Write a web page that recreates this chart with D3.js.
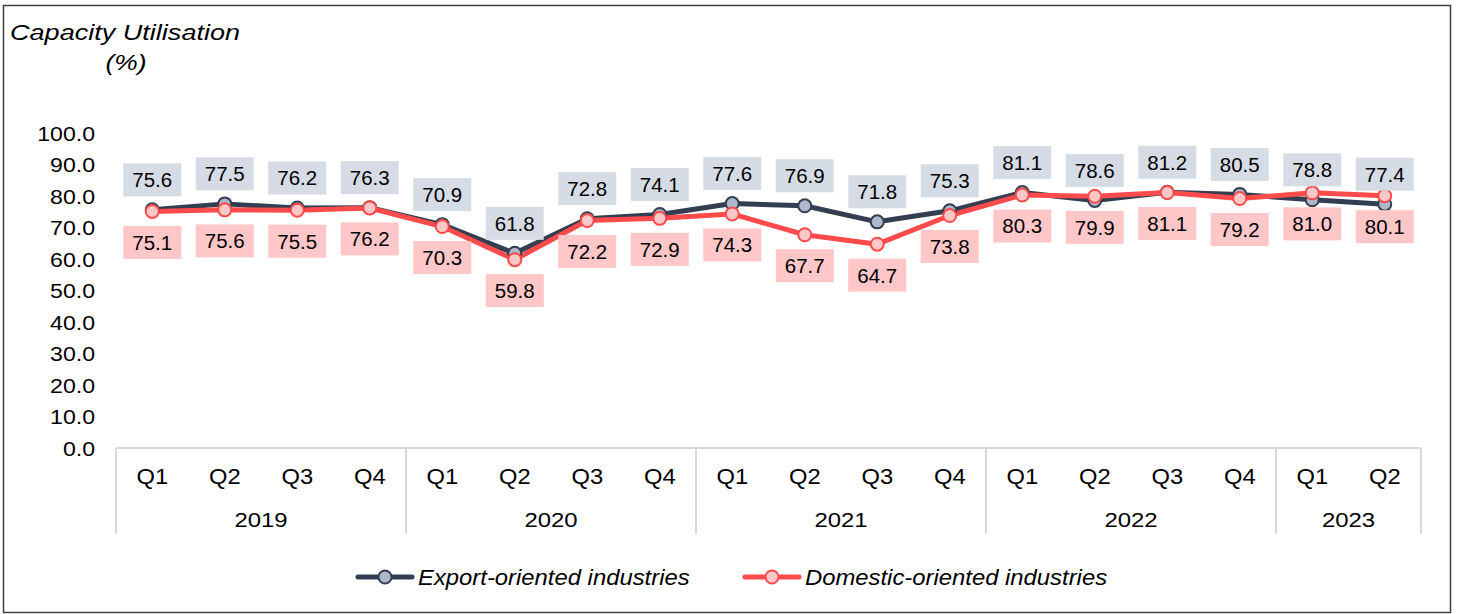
<!DOCTYPE html>
<html>
<head>
<meta charset="utf-8">
<script src="https://cdn.jsdelivr.net/npm/d3@7"></script>
<style>
  body { margin: 0; background: #fff; }
  text { font-family: Arial, "Liberation Sans", sans-serif; fill: #000; }
</style>
</head>
<body>
<div id="chart"></div>
<script>
const quarters = ['Q1', 'Q2', 'Q3', 'Q4', 'Q1', 'Q2', 'Q3', 'Q4', 'Q1', 'Q2', 'Q3', 'Q4', 'Q1', 'Q2', 'Q3', 'Q4', 'Q1', 'Q2']
const years = ['2019', '2019', '2019', '2019', '2020', '2020', '2020', '2020', '2021', '2021', '2021', '2021', '2022', '2022', '2022', '2022', '2023', '2023']
const exportValues = [75.6, 77.5, 76.2, 76.3, 70.9, 61.8, 72.8, 74.1, 77.6, 76.9, 71.8, 75.3, 81.1, 78.6, 81.2, 80.5, 78.8, 77.4]
const domesticValues = [75.1, 75.6, 75.5, 76.2, 70.3, 59.8, 72.2, 72.9, 74.3, 67.7, 64.7, 73.8, 80.3, 79.9, 81.1, 79.2, 81.0, 80.1]
const yTicks = [0, 10, 20, 30, 40, 50, 60, 70, 80, 90, 100]

const W = 1459
const H = 614
const margin = { top: 133, right: 38, bottom: 166, left: 116 }
const width = W - margin.left - margin.right
const height = H - margin.top - margin.bottom

const series = [
  { name: 'Export-oriented industries', values: exportValues, line: '#333f50', fill: '#adb9ca', box: '#d6dce5', dy: -30 },
  { name: 'Domestic-oriented industries', values: domesticValues, line: '#ff4b4b', fill: '#ffc7c7', box: '#ffc7c7', dy: 31 }
]

// the source renders text a little wider than Arial, so stretch it sideways
const place = (px, py, sx) => 'translate(' + px + ',' + py + ') scale(' + sx + ',1)'

const svg = d3.select('#chart').append('svg')
  .attr('width', W)
  .attr('height', H)

// outer frame
svg.append('rect')
  .attr('x', 3.5).attr('y', 5.5)
  .attr('width', 1447).attr('height', 607)
  .attr('fill', 'none')
  .attr('stroke', '#404040')
  .attr('stroke-width', 1.5)

svg.append('text')
  .attr('transform', place(10, 40, 1.23))
  .attr('font-size', 22).attr('font-style', 'italic')
  .text('Capacity Utilisation')
svg.append('text')
  .attr('transform', place(126, 70, 1.2))
  .attr('text-anchor', 'middle')
  .attr('font-size', 22).attr('font-style', 'italic')
  .text('(%)')

const g = svg.append('g').attr('transform', 'translate(' + margin.left + ',' + margin.top + ')')

const idx = d3.range(quarters.length)
const x = d3.scaleBand().domain(idx).range([0, width])
const y = d3.scaleLinear().domain([0, 100]).range([height, 0])
const cx = i => x(i) + x.bandwidth() / 2

// y axis labels
const yAxis = d3.axisLeft(y).tickValues(yTicks).tickFormat(d3.format('.1f')).tickSize(0).tickPadding(0)
g.append('g').call(yAxis)
  .call(s => s.select('.domain').remove())
  .call(s => s.selectAll('.tick text')
    .attr('x', null).attr('dy', null)
    .attr('transform', 'translate(-21,7) scale(1.1,1)')
    .attr('font-size', 21)
    .attr('fill', '#000')
    .attr('font-family', 'Arial, "Liberation Sans", sans-serif'))

// category axis
const axisColor = '#d9d9d9'
g.append('line')
  .attr('x1', 0).attr('x2', width)
  .attr('y1', height).attr('y2', height)
  .attr('stroke', axisColor).attr('stroke-width', 2)

const yearGroups = d3.groups(idx, i => years[i])
const bounds = [0]
yearGroups.forEach(([yr, ids]) => bounds.push(d3.max(ids) + 1))
bounds.forEach(b => {
  const bx = b < quarters.length ? x(b) : width
  g.append('line')
    .attr('x1', bx).attr('x2', bx)
    .attr('y1', height).attr('y2', height + 86)
    .attr('stroke', axisColor).attr('stroke-width', 2)
})

g.selectAll('.q').data(idx).join('text')
  .attr('transform', i => place(cx(i), height + 36, 1.08))
  .attr('text-anchor', 'middle')
  .attr('font-size', 22)
  .text(i => quarters[i])

g.selectAll('.yr').data(yearGroups).join('text')
  .attr('transform', d => place((x(d3.min(d[1])) + x(d3.max(d[1])) + x.bandwidth()) / 2, height + 79, 1.14))
  .attr('text-anchor', 'middle')
  .attr('font-size', 21)
  .text(d => d[0])

const line = d3.line().x((d, i) => cx(i)).y(d => y(d))

series.forEach(s => {
  g.append('path')
    .datum(s.values)
    .attr('d', line)
    .attr('fill', 'none')
    .attr('stroke', s.line)
    .attr('stroke-width', 5)
    .attr('stroke-linejoin', 'round')
})

series.forEach(s => {
  g.selectAll(null).data(s.values).join('circle')
    .attr('cx', (d, i) => cx(i))
    .attr('cy', d => y(d))
    .attr('r', 6.5)
    .attr('fill', s.fill)
    .attr('stroke', s.line)
    .attr('stroke-width', 2)
})

series.forEach(s => {
  const lab = g.selectAll(null).data(s.values).join('g')
    .attr('transform', (d, i) => 'translate(' + cx(i) + ',' + (y(d) + s.dy) + ')')
  lab.append('rect')
    .attr('x', -29).attr('y', -16.5)
    .attr('width', 58).attr('height', 33)
    .attr('fill', s.box)
  lab.append('text')
    .attr('text-anchor', 'middle')
    .attr('dy', '0.36em')
    .attr('font-size', 20.5)
    .text(d => d.toFixed(1))
})

// legend
const legend = svg.append('g').attr('transform', 'translate(358,577)')
const legendX = [0, 387]
series.forEach((s, k) => {
  const lg = legend.append('g').attr('transform', 'translate(' + legendX[k] + ',0)')
  lg.append('line')
    .attr('x1', 0).attr('x2', 54)
    .attr('stroke', s.line).attr('stroke-width', 5).attr('stroke-linecap', 'round')
  lg.append('circle')
    .attr('cx', 27).attr('r', 6.5)
    .attr('fill', s.fill).attr('stroke', s.line).attr('stroke-width', 2)
  lg.append('text')
    .attr('transform', place(60, 8, 1.06))
    .attr('font-size', 22.5).attr('font-style', 'italic')
    .text(s.name)
})
</script>
</body>
</html>
